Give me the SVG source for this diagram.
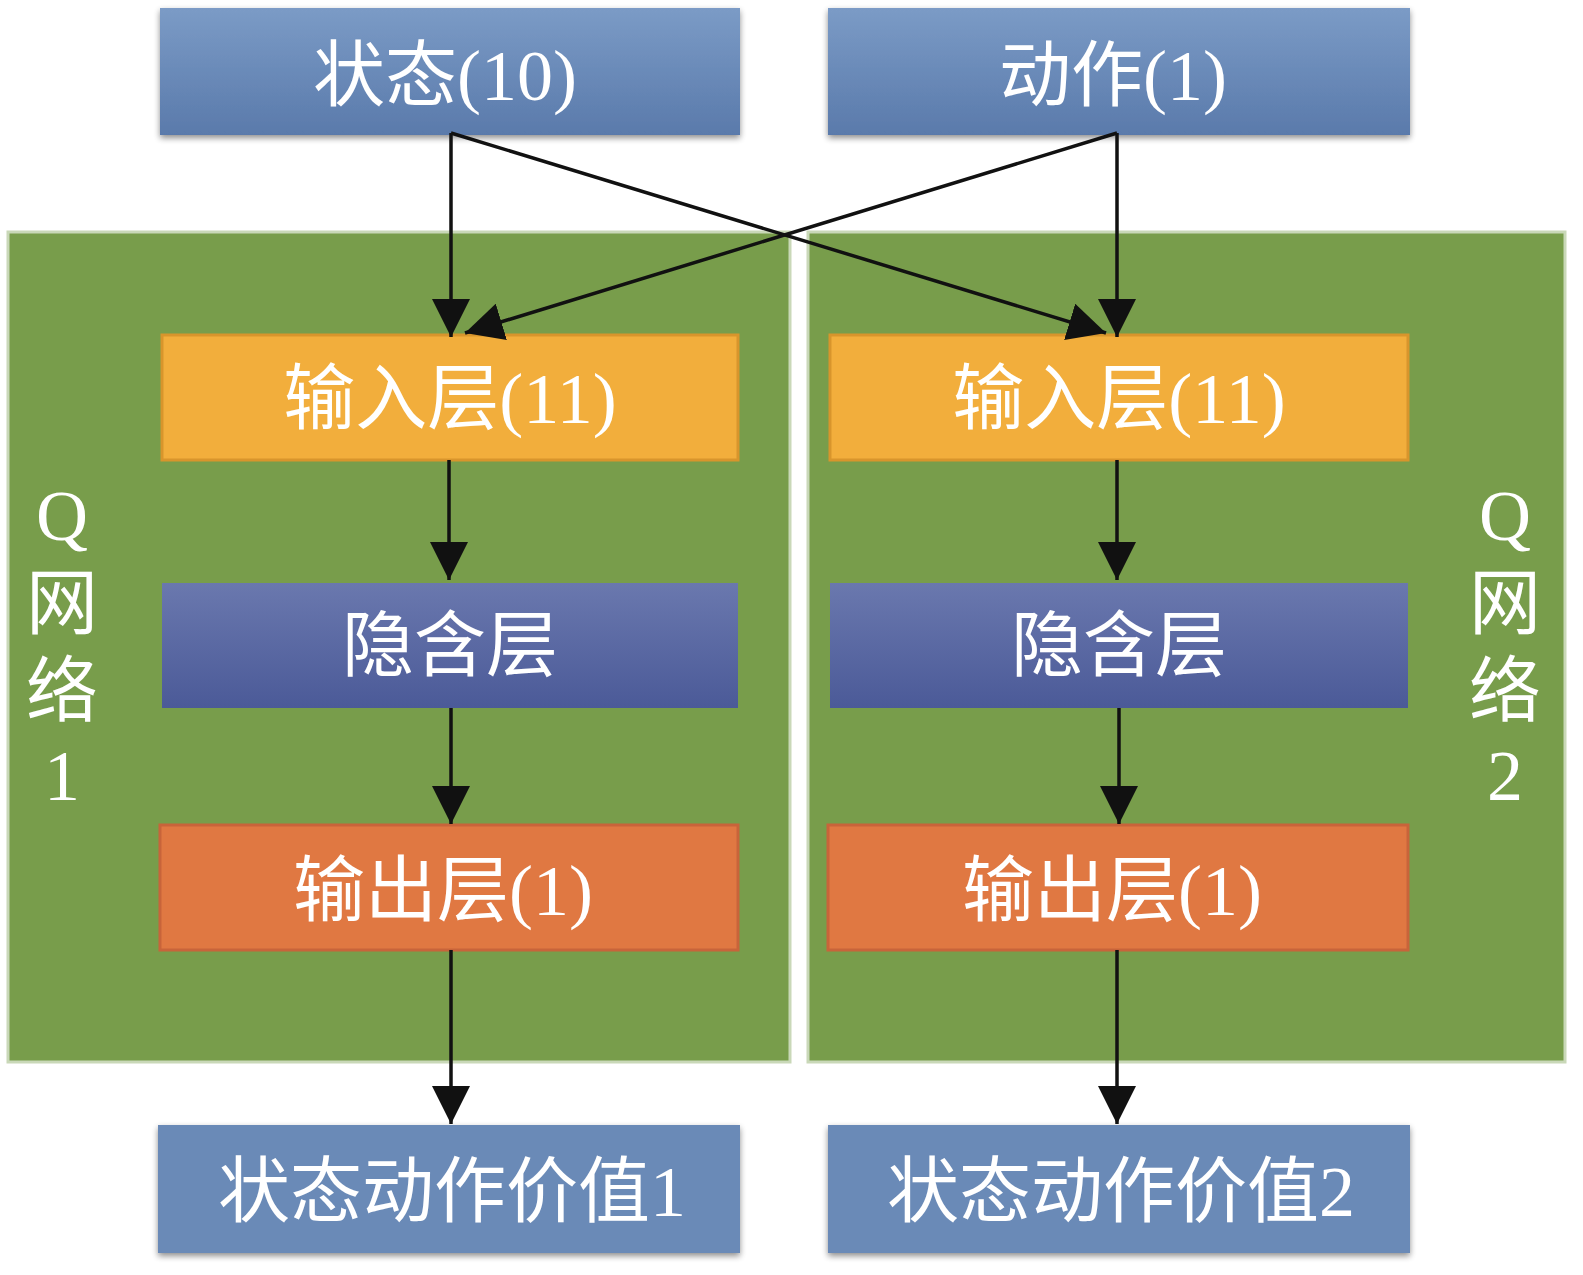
<svg xmlns="http://www.w3.org/2000/svg" width="1583" height="1275" viewBox="0 0 1583 1275">
<style>
text{font-family:"Liberation Serif","Noto Sans CJK SC",serif;fill:#fff;font-size:72px;text-anchor:middle}
.conn line{stroke:#111;stroke-width:3.5;fill:none}
</style>
<defs>
<linearGradient id="gBlue" x1="0" y1="0" x2="0" y2="1"><stop offset="0" stop-color="#7b9bc6"/><stop offset="1" stop-color="#5a7aab"/></linearGradient>
<linearGradient id="gHid" x1="0" y1="0" x2="0" y2="1"><stop offset="0" stop-color="#6a78ae"/><stop offset="1" stop-color="#4b5a98"/></linearGradient>
<filter id="sh" x="-5%" y="-10%" width="110%" height="125%"><feGaussianBlur in="SourceAlpha" stdDeviation="3"/><feOffset dy="3"/><feComponentTransfer><feFuncA type="linear" slope="0.45"/></feComponentTransfer><feMerge><feMergeNode/><feMergeNode in="SourceGraphic"/></feMerge></filter>
<marker id="ab" markerWidth="38" markerHeight="38" refX="38" refY="19" orient="auto" markerUnits="userSpaceOnUse" viewBox="0 0 38 38"><path d="M0,0 L38,19 L0,38 Z" fill="#111"/></marker>
</defs>
<rect width="1583" height="1275" fill="#fff"/>
<g id="panel1"><rect x="8" y="232" width="782" height="830" fill="#789d4b" stroke="#c9d8b8" stroke-width="3"/>
<text x="62" y="540">Q</text><text x="62" y="628">网</text><text x="62" y="716">络</text><text x="62" y="800">1</text></g>
<g id="panel2"><rect x="808" y="232" width="757" height="830" fill="#789d4b" stroke="#c9d8b8" stroke-width="3"/>
<text x="1505" y="540">Q</text><text x="1505" y="628">网</text><text x="1505" y="716">络</text><text x="1505" y="800">2</text></g>
<g id="state" filter="url(#sh)"><rect x="160" y="8" width="580" height="127" fill="url(#gBlue)"/><text x="445" y="100">状态(10)</text></g>
<g id="action" filter="url(#sh)"><rect x="828" y="8" width="582" height="127" fill="url(#gBlue)"/><text x="1113" y="100">动作(1)</text></g>
<g id="in1"><rect x="162" y="335" width="576" height="125" fill="#f2ae3c" stroke="#d8952c" stroke-width="3"/><text x="450" y="423">输入层(11)</text></g>
<g id="in2"><rect x="830" y="335" width="578" height="125" fill="#f2ae3c" stroke="#d8952c" stroke-width="3"/><text x="1119" y="423">输入层(11)</text></g>
<g id="hid1"><rect x="162" y="583" width="576" height="125" fill="url(#gHid)"/><text x="450" y="670">隐含层</text></g>
<g id="hid2"><rect x="830" y="583" width="578" height="125" fill="url(#gHid)"/><text x="1119" y="670">隐含层</text></g>
<g id="out1"><rect x="160" y="825" width="578" height="125" fill="#e07842" stroke="#c8643a" stroke-width="3"/><text x="443" y="915">输出层(1)</text></g>
<g id="out2"><rect x="828" y="825" width="580" height="125" fill="#e07842" stroke="#c8643a" stroke-width="3"/><text x="1112" y="915">输出层(1)</text></g>
<g id="val1" filter="url(#sh)"><rect x="158" y="1125" width="582" height="128" fill="#6a8ab7"/><text x="452" y="1216">状态动作价值1</text></g>
<g id="val2" filter="url(#sh)"><rect x="828" y="1125" width="582" height="128" fill="#6a8ab7"/><text x="1121" y="1216">状态动作价值2</text></g>
<g id="connectors" class="conn">
<line x1="451" y1="133" x2="451" y2="337" marker-end="url(#ab)"/>
<line x1="451" y1="133" x2="1106" y2="333" marker-end="url(#ab)"/>
<line x1="1117" y1="133" x2="1117" y2="337" marker-end="url(#ab)"/>
<line x1="1117" y1="133" x2="465" y2="333" marker-end="url(#ab)"/>
<line x1="449" y1="460" x2="449" y2="580" marker-end="url(#ab)"/>
<line x1="451" y1="708" x2="451" y2="824" marker-end="url(#ab)"/>
<line x1="451" y1="950" x2="451" y2="1124" marker-end="url(#ab)"/>
<line x1="1117" y1="460" x2="1117" y2="580" marker-end="url(#ab)"/>
<line x1="1119" y1="708" x2="1119" y2="824" marker-end="url(#ab)"/>
<line x1="1117" y1="950" x2="1117" y2="1124" marker-end="url(#ab)"/>
</g>
</svg>
